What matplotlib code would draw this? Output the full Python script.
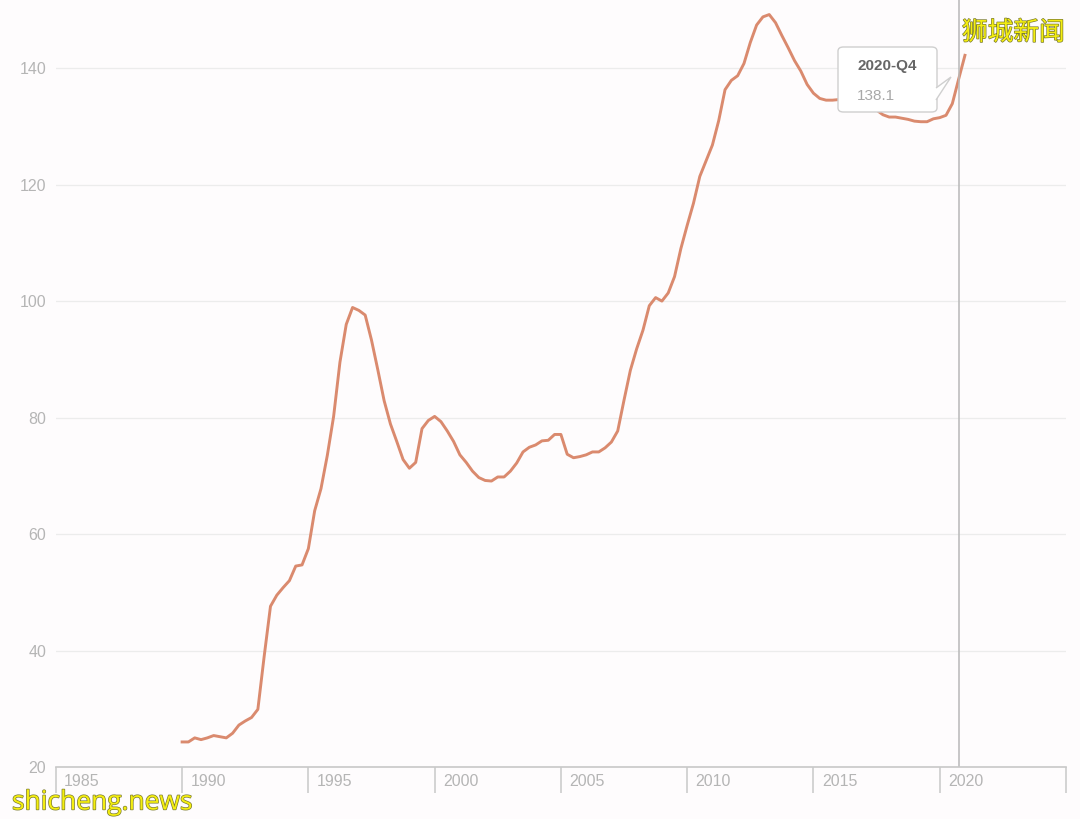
import matplotlib
matplotlib.use("Agg")
import matplotlib.pyplot as plt
import matplotlib.patheffects as pe
from matplotlib.patches import FancyBboxPatch, Polygon
from matplotlib.transforms import ScaledTranslation

plt.rcParams['font.family'] = ['Liberation Sans', 'Noto Sans CJK SC', 'DejaVu Sans']

# HDB resale price index, quarterly 1990-Q1 .. 2021-Q1
start_year = 1990
index_values = [
    24.3, 24.3, 25.0, 24.7,     # 1990
    25.0, 25.4, 25.2, 25.0,     # 1991
    25.8, 27.2, 27.9, 28.5,     # 1992
    29.9, 39.0, 47.6, 49.5,     # 1993
    50.8, 52.0, 54.5, 54.7,     # 1994
    57.5, 64.0, 67.8, 73.5,     # 1995
    80.2, 89.5, 96.0, 98.9,     # 1996
    98.4, 97.6, 93.3, 88.2,     # 1997
    82.9, 78.9, 75.9, 72.8,     # 1998
    71.3, 72.3, 78.1, 79.5,     # 1999
    80.2, 79.3, 77.7, 75.9,     # 2000
    73.6, 72.3, 70.8, 69.7,     # 2001
    69.2, 69.1, 69.8, 69.8,     # 2002
    70.8, 72.2, 74.1, 74.9,     # 2003
    75.3, 76.0, 76.1, 77.1,     # 2004
    77.1, 73.7, 73.1, 73.3,     # 2005
    73.6, 74.1, 74.1, 74.8,     # 2006
    75.8, 77.7, 83.0, 88.1,     # 2007
    91.8, 95.0, 99.2, 100.6,    # 2008
    100.0, 101.4, 104.2, 109.0, # 2009
    113.0, 116.8, 121.4, 124.1, # 2010
    126.8, 131.0, 136.3, 137.9, # 2011
    138.7, 140.8, 144.4, 147.4, # 2012
    148.8, 149.2, 147.8, 145.6, # 2013
    143.5, 141.3, 139.5, 137.2, # 2014
    135.7, 134.8, 134.5, 134.5, # 2015
    134.6, 134.5, 134.3, 134.0, # 2016
    133.7, 133.3, 132.8, 132.0, # 2017
    131.6, 131.6, 131.4, 131.2, # 2018
    130.9, 130.8, 130.8, 131.3, # 2019
    131.5, 131.9, 133.9, 138.1, # 2020
    142.2,                      # 2021
]
quarters = [start_year + i / 4 for i in range(len(index_values))]

year_ticks = [1985, 1990, 1995, 2000, 2005, 2010, 2015, 2020, 2025]
year_labels = ['1985', '1990', '1995', '2000', '2005', '2010', '2015', '2020', '']
y_ticks = [20, 40, 60, 80, 100, 120, 140]

hover_label = '2020-Q4'
hover_x = 2020.75
hover_value = 138.1

bg = '#fefcfd'
fig = plt.figure(figsize=(10.8, 8.19), dpi=100, facecolor=bg)
ax = fig.add_axes([0.0517, 0.0635, 0.9353, 0.9365])
ax.set_facecolor(bg)

ax.plot(quarters, index_values, color='#da8a6e', lw=2.1, solid_joinstyle='round')

ax.set_xlim(1985, 2025)
ax.set_ylim(20, 151.7)

ax.set_yticks(y_ticks)
ax.set_yticklabels([str(v) for v in y_ticks])
ax.grid(axis='y', color='#ececec', lw=0.9)
ax.tick_params(axis='y', length=0, pad=7, labelsize=11.5, labelcolor='#b5b5b5')

ax.set_xticks(year_ticks)
ax.set_xticklabels(year_labels)
ax.tick_params(axis='x', length=19, width=1.1, color='#c8c8c8', labelsize=11.5,
               labelcolor='#b5b5b5', pad=-14)
for lab in ax.get_xticklabels():
    lab.set_horizontalalignment('left')
    lab.set_transform(lab.get_transform() + ScaledTranslation(6 / 72, 0, fig.dpi_scale_trans))

for s in ['top', 'right', 'left']:
    ax.spines[s].set_visible(False)
ax.spines['bottom'].set_color('#c8c8c8')
ax.spines['bottom'].set_linewidth(1.2)

# hover line and tooltip
ax.axvline(hover_x, color='#b8b8b8', lw=1.1)

box = FancyBboxPatch((838 / 1080, 1 - 112 / 819), 99 / 1080, 65 / 819,
                     boxstyle='round,pad=0,rounding_size=0.005',
                     transform=fig.transFigure, facecolor='white',
                     edgecolor='#cfcfcf', lw=1.0, zorder=5)
fig.patches.append(box)
arrow = Polygon([(936 / 1080, 1 - 88 / 819), (951 / 1080, 1 - 77 / 819), (936 / 1080, 1 - 100 / 819)],
                closed=False, transform=fig.transFigure, facecolor='white',
                edgecolor='#cfcfcf', lw=1.0, zorder=6)
fig.patches.append(arrow)
fig.text(857 / 1080, 1 - 66 / 819, hover_label, fontsize=11, fontweight='bold',
         color='#666666', va='center', ha='left', zorder=7)
fig.text(857 / 1080, 1 - 96 / 819, f'{hover_value}', fontsize=11,
         color='#a8a8a8', va='center', ha='left', zorder=7)

# watermarks
stroke = [pe.withStroke(linewidth=1.0, foreground='#7a7a30')]
fig.text(1065 / 1080, 1 - 33 / 819, '狮城新闻', fontsize=18.5, color='#f4ee10',
         family=['Noto Sans CJK SC', 'DejaVu Sans'], ha='right', va='center',
         path_effects=stroke)
fig.text(12 / 1080, 1 - 803 / 819, 'shicheng.news', fontsize=19, color='#f4ee10',
         family=['Open Sans', 'DejaVu Sans'], ha='left', va='center',
         path_effects=stroke)

fig.savefig('out.png', dpi=100, facecolor=bg)
